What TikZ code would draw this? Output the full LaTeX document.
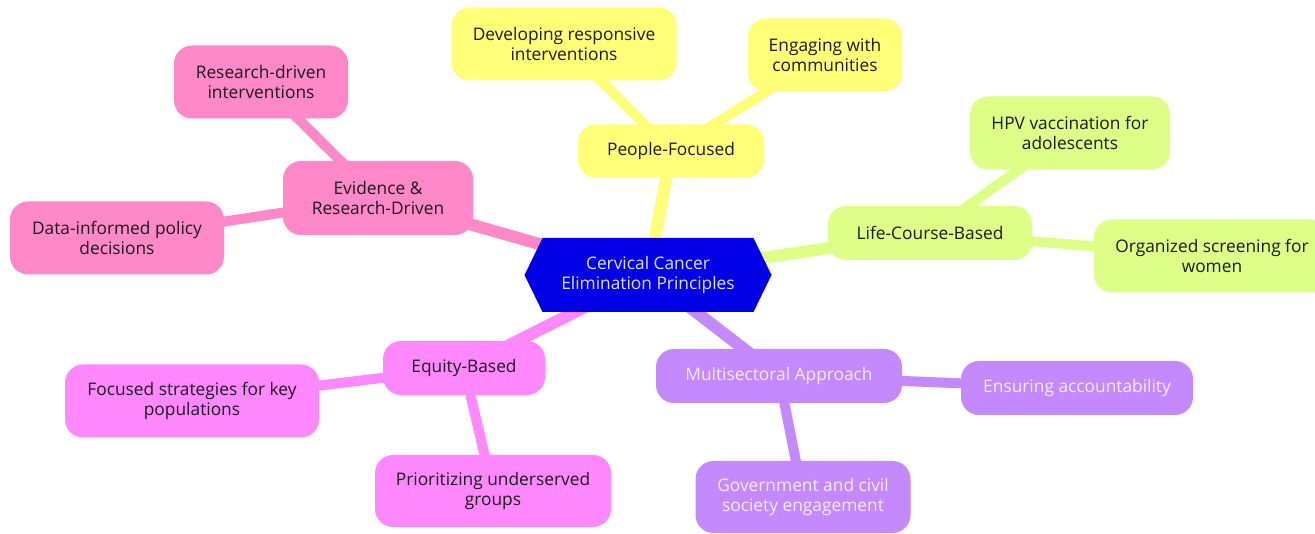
\documentclass[tikz,border=0pt]{standalone}
\usepackage{fontspec}
\setmainfont{Open Sans}
\usetikzlibrary{shapes.symbols,backgrounds}

\definecolor{hubblue}{HTML}{0000E6}
\definecolor{hubtext}{HTML}{E4E4FF}
\definecolor{ylw}{HTML}{FFFF78}
\definecolor{grn}{HTML}{DDFF88}
\definecolor{prp}{HTML}{C488FF}
\definecolor{mag}{HTML}{FF88FF}
\definecolor{pnk}{HTML}{FF88C8}
\definecolor{ink}{HTML}{1A1A1A}
\definecolor{paleink}{HTML}{F4EEFF}

\tikzset{
  box/.style={rectangle, rounded corners=13.5pt, align=center, inner sep=2pt,
    text=ink, font=\fontsize{13}{14.5}\selectfont},
  ybox/.style={box, fill=ylw},
  gbox/.style={box, fill=grn},
  pbox/.style={box, fill=prp, text=paleink},
  mbox/.style={box, fill=mag},
  kbox/.style={box, fill=pnk},
  hub/.style={signal, signal to=west and east, signal pointer angle=128,
    fill=hubblue, text=hubtext, align=center, inner sep=0pt,
    minimum width=185.25pt, minimum height=55.5pt,
    font=\fontsize{13}{14.5}\selectfont},
  trunk/.style={line width=9pt},
  twig/.style={line width=7.5pt},
}

\begin{document}
\begin{tikzpicture}[x=0.75pt, y=-0.75pt]
  \clip (0,0) rectangle (1315,534);

  % central hub
  \node[hub] (hub) at (648,275) {Cervical Cancer\\Elimination Principles};

  % people-focused branch
  \node[ybox, minimum width=139.5pt, minimum height=39.75pt] (people) at (671,151) {People-Focused};
  \node[ybox, minimum width=168.75pt, minimum height=54.75pt] (develop) at (564,44) {Developing responsive\\interventions};
  \node[ybox, minimum width=115.5pt, minimum height=54.75pt] (engage) at (825,55) {Engaging with\\communities};

  % life-course branch
  \node[gbox, minimum width=153pt, minimum height=40.5pt] (life) at (930,233) {Life-Course-Based};
  \node[gbox, minimum width=150pt, minimum height=54.75pt] (hpv) at (1070,133) {HPV vaccination for\\adolescents};
  \node[gbox, minimum width=177pt, minimum height=54.75pt] (screen) at (1212,256) {Organized screening for\\women};

  % multisectoral branch
  \node[pbox, minimum width=184.5pt, minimum height=40.5pt] (multi) at (779,376) {Multisectoral Approach};
  \node[pbox, minimum width=174pt, minimum height=40.5pt] (account) at (1077,388) {Ensuring accountability};
  \node[pbox, minimum width=161.25pt, minimum height=54pt] (gov) at (803,497) {Government and civil\\society engagement};

  % equity branch
  \node[mbox, minimum width=121.5pt, minimum height=40.5pt] (equity) at (464,368) {Equity-Based};
  \node[mbox, minimum width=190.5pt, minimum height=54.75pt] (focus) at (192,401) {Focused strategies for key\\populations};
  \node[mbox, minimum width=177pt, minimum height=54pt] (prior) at (493,491) {Prioritizing underserved\\groups};

  % evidence branch
  \node[kbox, minimum width=142.5pt, minimum height=55.5pt] (evid) at (378,198) {Evidence \&\\Research-Driven};
  \node[kbox, minimum width=130.5pt, minimum height=54.75pt] (resdrv) at (261,82) {Research-driven\\interventions};
  \node[kbox, minimum width=160.5pt, minimum height=54.75pt] (data) at (117,238) {Data-informed policy\\decisions};

  % white page and connectors behind the boxes
  \begin{pgfonlayer}{background}
    \fill[white] (0,0) rectangle (1315,534);

    \draw[trunk, ylw] (hub.center) -- (people.center);
    \draw[trunk, grn] (hub.center) -- (life.center);
    \draw[trunk, prp] (hub.center) -- (multi.center);
    \draw[trunk, mag] (hub.center) -- (equity.center);
    \draw[trunk, pnk] (hub.center) -- (evid.center);

    \draw[twig, ylw] (people.center) -- (develop.center);
    \draw[twig, ylw] (people.center) -- (engage.center);
    \draw[twig, grn] (life.center) -- (hpv.center);
    \draw[twig, grn] (life.center) -- (screen.center);
    \draw[twig, prp] (multi.center) -- (account.center);
    \draw[twig, prp] (multi.center) -- (gov.center);
    \draw[twig, mag] (equity.center) -- (focus.center);
    \draw[twig, mag] (equity.center) -- (prior.center);
    \draw[twig, pnk] (evid.center) -- (resdrv.center);
    \draw[twig, pnk] (evid.center) -- (data.center);
  \end{pgfonlayer}
\end{tikzpicture}
\end{document}
